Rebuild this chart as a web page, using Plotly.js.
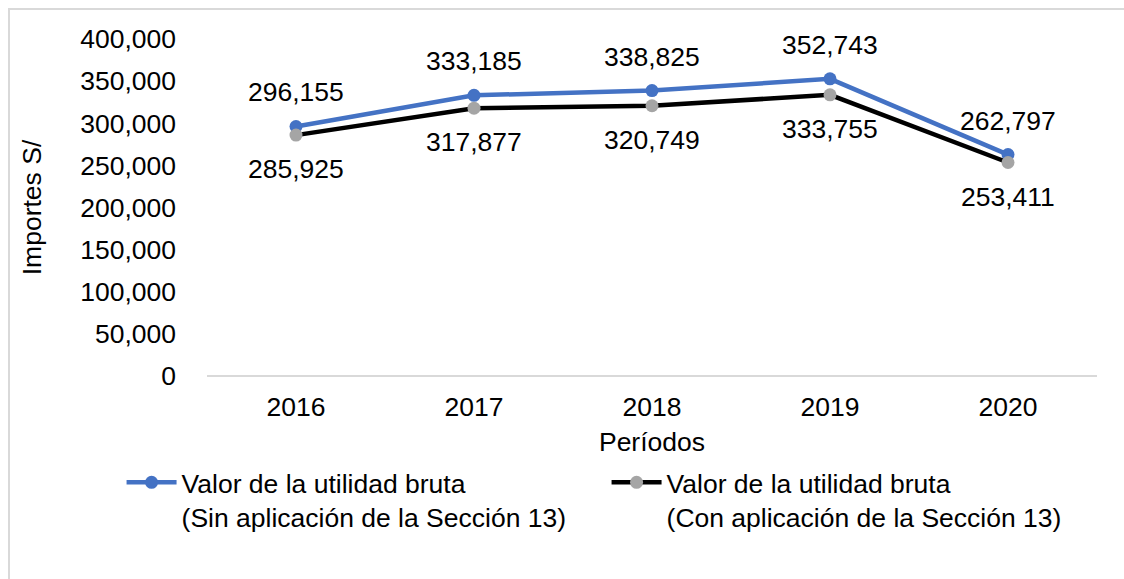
<!DOCTYPE html>
<html><head><meta charset="utf-8">
<script src="https://cdn.plot.ly/plotly-3.0.1.min.js"></script>
<style>
html,body{margin:0;padding:0;background:#fff;overflow:hidden;}
#frame{position:absolute;left:8px;top:8px;width:1200px;height:700px;border:2px solid #d9d9d9;box-sizing:border-box;}
#chart{position:absolute;left:0;top:0;width:1124px;height:579px;}
</style></head>
<body>
<div id="frame"></div>
<div id="chart"></div>
<script>
const years = ['2016','2017','2018','2019','2020'];
const sinSeccion13 = [296155, 333185, 338825, 352743, 262797];
const conSeccion13 = [285925, 317877, 320749, 333755, 253411];
const yTicks = [0,50000,100000,150000,200000,250000,300000,350000,400000];
const yTickText = ['0','50,000','100,000','150,000','200,000','250,000','300,000','350,000','400,000'];
const nameSin = 'Valor de la utilidad bruta<br>(Sin aplicación de la Sección 13)';
const nameCon = 'Valor de la utilidad bruta<br>(Con aplicación de la Sección 13)';

const fmt = v => v.toLocaleString('en-US');
const FONT = 'Liberation Sans, Arial, sans-serif';
const FS = 26.5;

const traces = [
  {x: years, y: sinSeccion13, type:'scatter', mode:'lines+markers', name: nameSin,
   line:{color:'#4472C4', width:4.5}, marker:{color:'#4472C4', size:13}},
  {x: years, y: conSeccion13, type:'scatter', mode:'lines+markers', name: nameCon,
   line:{color:'#000000', width:4.5}, marker:{color:'#A5A5A5', size:13}}
];

const annotations = [];
years.forEach((yr,i)=>{
  annotations.push({x: i, xref:'x', yref:'y', y: sinSeccion13[i], text: fmt(sinSeccion13[i]), showarrow:false,
    yshift: 34, font:{family:FONT, size:FS, color:'#000'}});
  annotations.push({x: i, xref:'x', yref:'y', y: conSeccion13[i], text: fmt(conSeccion13[i]), showarrow:false,
    yshift: -34, font:{family:FONT, size:FS, color:'#000'}});
});

const layout = {
  width:1124, height:579,
  margin:{l:207, r:27, t:39, b:203, autoexpand:false},
  paper_bgcolor:'rgba(0,0,0,0)', plot_bgcolor:'rgba(0,0,0,0)',
  font:{family:FONT, size:FS, color:'#000'},
  showlegend:true,
  xaxis:{type:'category', showgrid:false, zeroline:false, showline:false, ticks:'',
    ticklabelstandoff:12,
    tickfont:{family:FONT, size:FS}, title:{text:'Períodos', font:{family:FONT, size:FS}, standoff:11},
    range:[-0.5,4.5]},
  yaxis:{range:[0,400000], tickvals:yTicks, ticktext:yTickText, showgrid:false,
    zeroline:true, zerolinecolor:'#d9d9d9', zerolinewidth:2, showline:false, ticks:'',
    ticklabelstandoff:30,
    tickfont:{family:FONT, size:FS}, title:{text:'Importes S/', font:{family:FONT, size:FS}, standoff:30}},
  legend:{orientation:'h', x:-0.096, xanchor:'left', y:-0.245, yanchor:'top',
    font:{family:FONT, size:FS}, entrywidth:420, entrywidthmode:'pixels', valign:'top', itemwidth:50,
    bgcolor:'rgba(0,0,0,0)'},
  annotations: annotations
};
Plotly.newPlot('chart', traces, layout, {staticPlot:true, displayModeBar:false});
</script>
</body></html>
